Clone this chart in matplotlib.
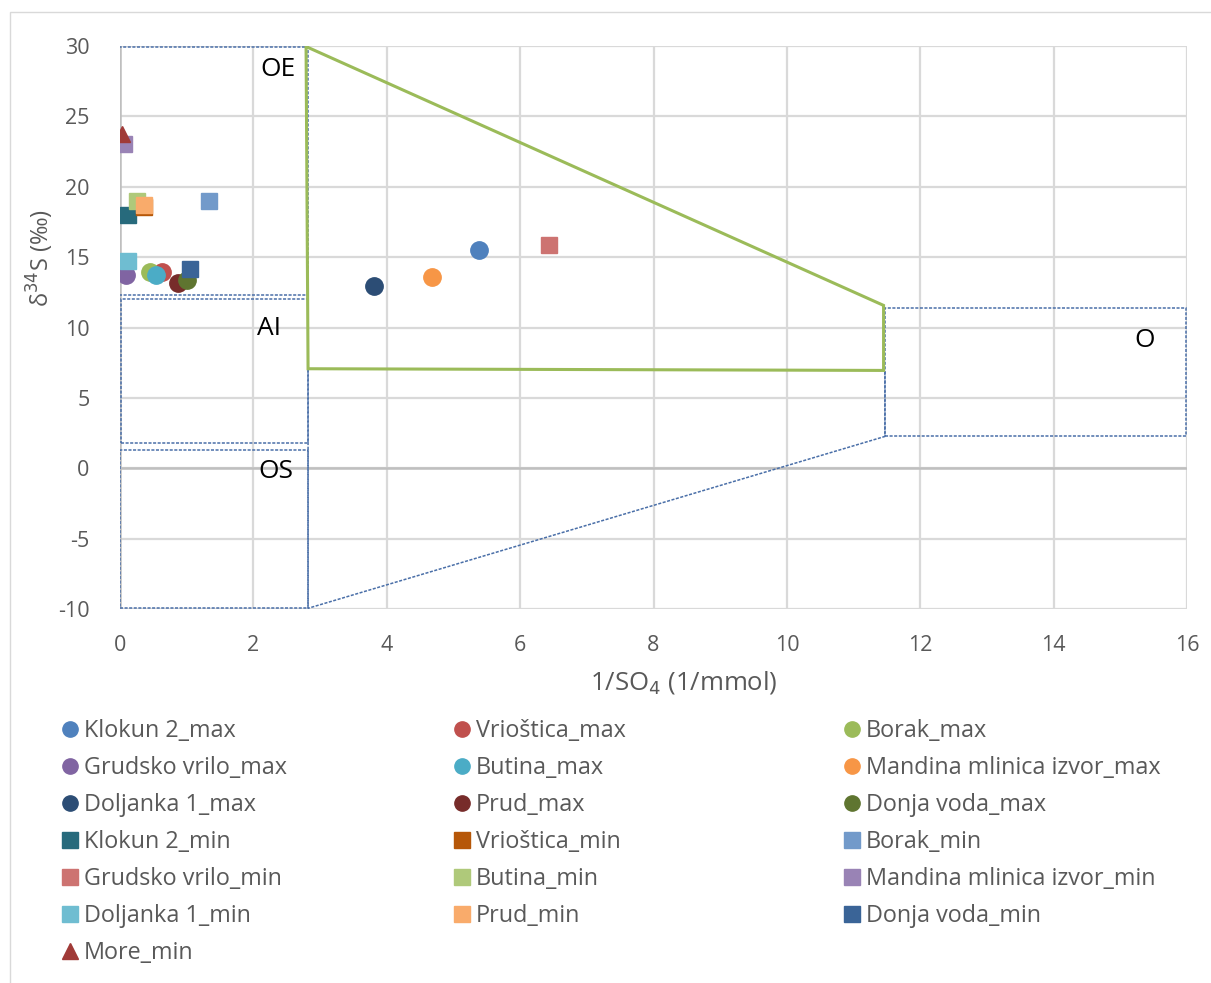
import numpy as np
import matplotlib.pyplot as plt
from matplotlib.patches import Rectangle, Polygon
from matplotlib.lines import Line2D

plt.rcParams['font.family'] = ['Open Sans', 'DejaVu Sans']
plt.rcParams['axes.unicode_minus'] = False

# series, in the order the source drew them
names = ['Klokun 2_max', 'Vrioštica_max', 'Borak_max', 'Grudsko vrilo_max', 'Butina_max',
         'Mandina mlinica izvor_max', 'Doljanka 1_max', 'Prud_max', 'Donja voda_max',
         'Klokun 2_min', 'Vrioštica_min', 'Borak_min', 'Grudsko vrilo_min', 'Butina_min',
         'Mandina mlinica izvor_min', 'Doljanka 1_min', 'Prud_min', 'Donja voda_min', 'More_min']
inv_so4 = [5.39, 0.63, 0.45, 0.085, 0.535, 4.68, 3.81, 0.865, 1.0,
           0.115, 0.365, 1.34, 6.44, 0.25, 0.065, 0.115, 0.365, 1.05, 0.035]
d34s = [15.5, 13.97, 13.92, 13.7, 13.7, 13.59, 12.92, 13.16, 13.35,
        17.97, 18.59, 18.96, 15.88, 18.96, 23.04, 14.75, 18.73, 14.18, 23.77]
colors = ['#4F81BD', '#C0504D', '#9BBB59', '#8064A2', '#4BACC6', '#F79646', '#2C4D75', '#772C2A', '#5F7530',
          '#276A7C', '#B65708', '#729ACA', '#CD7371', '#AFC97A', '#9983B5', '#6FBDD1', '#F9AB6B', '#3A6497', '#A03A37']
markers = ['o'] * 9 + ['s'] * 9 + ['^']

# field outlines (x, y)
oe_box = (-0.015, 12.33, 2.835, 17.63)
ai_box = (0.015, 1.81, 2.805, 10.24)
os_box = (0.0, -9.92, 2.82, 11.19)
o_box = (11.47, 2.26, 4.51, 9.13)
green_x = [2.79, 11.45, 11.45, 2.82]
green_y = [29.96, 11.57, 6.95, 7.07]
link_x = [2.82, 2.82, 11.47, 11.47]
link_y = [7.07, -9.95, 2.26, 6.95]
zone_labels = ['OE', 'AI', 'OS', 'O']
zone_x = [2.37, 2.24, 2.34, 15.37]
zone_y = [28.3, 9.9, -0.2, 9.1]

W, H = 1211, 983
fig = plt.figure(figsize=(W / 100, H / 100), dpi=100)
ax = fig.add_axes([120 / W, 1 - 609 / H, (1187 - 120) / W, (609 - 46) / H])

ax.set_xlim(0, 16)
ax.set_ylim(-10, 30)
ax.set_xticks(np.arange(0, 17, 2))
ax.set_yticks(np.arange(-10, 31, 5))
ax.grid(True, color='#D9D9D9', lw=1.6, zorder=0)
ax.set_axisbelow(True)
for s in ax.spines.values():
    s.set_visible(False)
ax.axhline(0, color='#BFBFBF', lw=1.8, zorder=1)
ax.axvline(0, color='#BFBFBF', lw=1.8, zorder=1)
ax.tick_params(length=0, labelsize=15.5, labelcolor='#595959')
ax.tick_params(axis='x', pad=19)
ax.tick_params(axis='y', pad=22)

dash = dict(fill=False, edgecolor='#4A6FA8', lw=1.1, ls=(0, (2, 1)), zorder=2)
for b in [oe_box, ai_box, os_box, o_box]:
    ax.add_patch(Rectangle((b[0], b[1]), b[2], b[3], **dash))
ax.plot(link_x, link_y, color='#4A6FA8', lw=1.1, ls=(0, (2, 1)), zorder=2)
ax.add_patch(Polygon(list(zip(green_x, green_y)), closed=True, fill=False,
                     edgecolor='#9BBB59', lw=2.2, zorder=3))

for lab, tx, ty in zip(zone_labels, zone_x, zone_y):
    ax.text(tx, ty, lab, fontsize=19, ha='center', va='center', color='black', zorder=4)

handles = []
for n, x, y, c, m in zip(names, inv_so4, d34s, colors, markers):
    ms = 12.5 if m == 'o' else 12
    ax.plot([x], [y], ls='none', marker=m, ms=ms, color=c, mec=c, zorder=5)
    handles.append(Line2D([], [], ls='none', marker=m, ms=11, color=c, mec=c, label=n))

fig.text(40 / W, 1 - 258 / H, 'δ$^{34}$S (‰)', rotation=90, fontsize=17, color='#595959',
         ha='center', va='center')
fig.text(684 / W, 1 - 683 / H, '1/SO$_4$ (1/mmol)', fontsize=18.5, color='#595959',
         ha='center', va='center')

# legend: three columns read across rows
col_x = [57, 449, 839]
for k in range(3):
    hs = handles[k::3]
    fig.legend(handles=hs, loc='upper left', bbox_to_anchor=(col_x[k] / W, 1 - 719 / H),
               frameon=False, fontsize=16.8, labelcolor='#595959', handletextpad=0.05,
               handlelength=1.1, labelspacing=0.56, borderaxespad=0, borderpad=0)

fig.add_artist(Rectangle((10 / W, -0.01), 1.1, 1 - 12 / H + 0.01, transform=fig.transFigure,
                         fill=False, edgecolor='#D9D9D9', lw=1))

fig.savefig('out.png', dpi=100)
